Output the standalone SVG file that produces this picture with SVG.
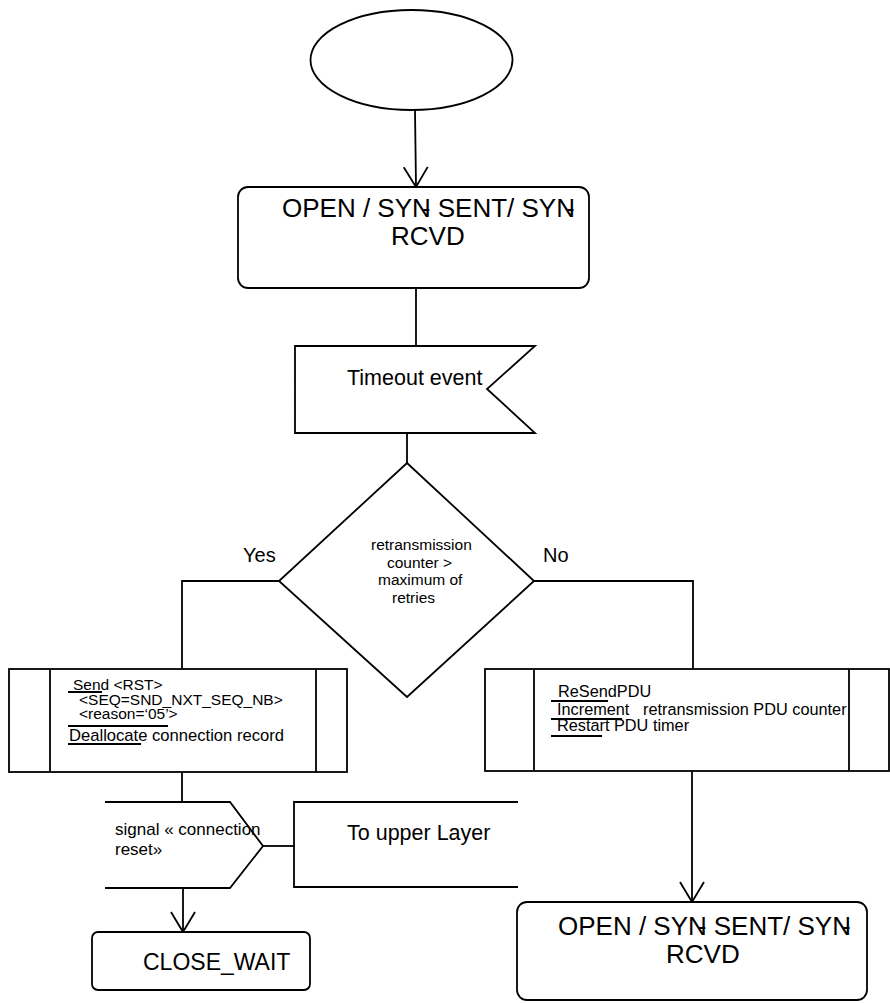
<svg xmlns="http://www.w3.org/2000/svg" width="890" height="1003" viewBox="0 0 890 1003">
<style>
.s{fill:#fff;stroke:#000;stroke-width:1.8}
.o{fill:none;stroke:#000;stroke-width:1.8}
.c{fill:none;stroke:#000;stroke-width:1.8}
text{font-family:"Liberation Sans",Arial,sans-serif;fill:#000}
.big{font-size:26px}
.mid{font-size:21.5px}
.sm{font-size:15.5px}
.ac{font-size:16.3px}
</style>
<defs>
<marker id="v" viewBox="-21 -14 23 28" refX="0" refY="0" markerWidth="23" markerHeight="28" markerUnits="userSpaceOnUse" orient="auto" overflow="visible">
<path d="M-20,-12 L0,0 L-20,12" fill="none" stroke="#000" stroke-width="1.8"/>
</marker>
</defs>
<rect width="890" height="1003" fill="#fff"/>
<g id="connectors">
<line class="c" x1="415" y1="110" x2="416" y2="187" marker-end="url(#v)"/>
<line class="c" x1="416" y1="288" x2="416" y2="346"/>
<line class="c" x1="407" y1="433" x2="407" y2="463"/>
<polyline class="c" points="279,581 182,581 182,669"/>
<polyline class="c" points="534,581 693,581 693,669"/>
<line class="c" x1="182" y1="772" x2="182" y2="802"/>
<line class="c" x1="263" y1="846" x2="294" y2="846"/>
<line class="c" x1="183" y1="888" x2="183" y2="932" marker-end="url(#v)"/>
<line class="c" x1="692" y1="771" x2="692" y2="902" marker-end="url(#v)"/>
</g>
<g id="start">
<ellipse class="s" cx="411.5" cy="60" rx="101" ry="50"/>
</g>
<g id="state1">
<rect class="s" x="238" y="187" width="351" height="101" rx="10"/>
<text class="big" x="282" y="217">OPEN / SYN<tspan dx="-9">-</tspan> SENT/ SYN<tspan dx="-9">-</tspan></text>
<text class="big" x="391" y="245">RCVD</text>
</g>
<g id="timeout">
<polygon class="s" points="295,346 535,346 487,389 535,433 295,433"/>
<text class="mid" x="347" y="385">Timeout event</text>
</g>
<g id="decision">
<polygon class="s" points="407,463 534,581 407,697 279,581"/>
<text class="sm" x="371" y="550">retransmission</text>
<text class="sm" x="387" y="568">counter &gt;</text>
<text class="sm" x="378" y="585">maximum of</text>
<text class="sm" x="392" y="603">retries</text>
</g>
<g id="labels">
<text style="font-size:20px" x="243" y="562">Yes</text>
<text style="font-size:20px" x="543" y="562">No</text>
</g>
<g id="task-rst">
<rect class="s" x="9" y="669" width="338" height="103"/>
<line class="o" x1="50" y1="669" x2="50" y2="772"/>
<line class="o" x1="316" y1="669" x2="316" y2="772"/>
<text class="sm" x="73" y="690">Send &lt;RST&gt;</text>
<text class="sm" x="79" y="705">&lt;SEQ=SND_NXT_SEQ_NB&gt;</text>
<text class="sm" x="79" y="719">&lt;reason=‘05’&gt;</text>
<text style="font-size:16.6px" x="69" y="741">Deallocate connection record</text>
<line class="o" x1="68" y1="692" x2="102" y2="692"/>
<line class="o" x1="68" y1="726" x2="168" y2="726"/>
<line class="o" x1="68" y1="744" x2="141" y2="744"/>
</g>
<g id="task-resend">
<rect class="s" x="485" y="669" width="404" height="102"/>
<line class="o" x1="534" y1="669" x2="534" y2="771"/>
<line class="o" x1="849" y1="669" x2="849" y2="771"/>
<text class="ac" x="558" y="697">ReSendPDU</text>
<text class="ac" x="557" y="715" xml:space="preserve">Increment   retransmission PDU counter</text>
<text class="ac" x="557" y="731">Restart PDU timer</text>
<line class="o" x1="551" y1="701" x2="608" y2="701"/>
<line class="o" x1="551" y1="719" x2="622" y2="719"/>
<line class="o" x1="551" y1="736" x2="602" y2="736"/>
</g>
<g id="signal">
<polyline class="o" points="105,802 230,802 263,846 230,888 105,888"/>
<text style="font-size:17px" x="115" y="835">signal « connection</text>
<text style="font-size:17px" x="115" y="855">reset»</text>
</g>
<g id="upper-layer">
<polyline class="o" points="518,802 294,802 294,887 518,887"/>
<text class="mid" x="347" y="840">To upper Layer</text>
</g>
<g id="close-wait">
<rect class="s" x="92" y="932" width="218" height="58" rx="6"/>
<text style="font-size:23px" x="143" y="970">CLOSE_WAIT</text>
</g>
<g id="state2">
<rect class="s" x="517" y="902" width="350" height="98" rx="10"/>
<text class="big" x="558" y="935">OPEN / SYN<tspan dx="-9">-</tspan> SENT/ SYN<tspan dx="-9">-</tspan></text>
<text class="big" x="666" y="963">RCVD</text>
</g>
</svg>
